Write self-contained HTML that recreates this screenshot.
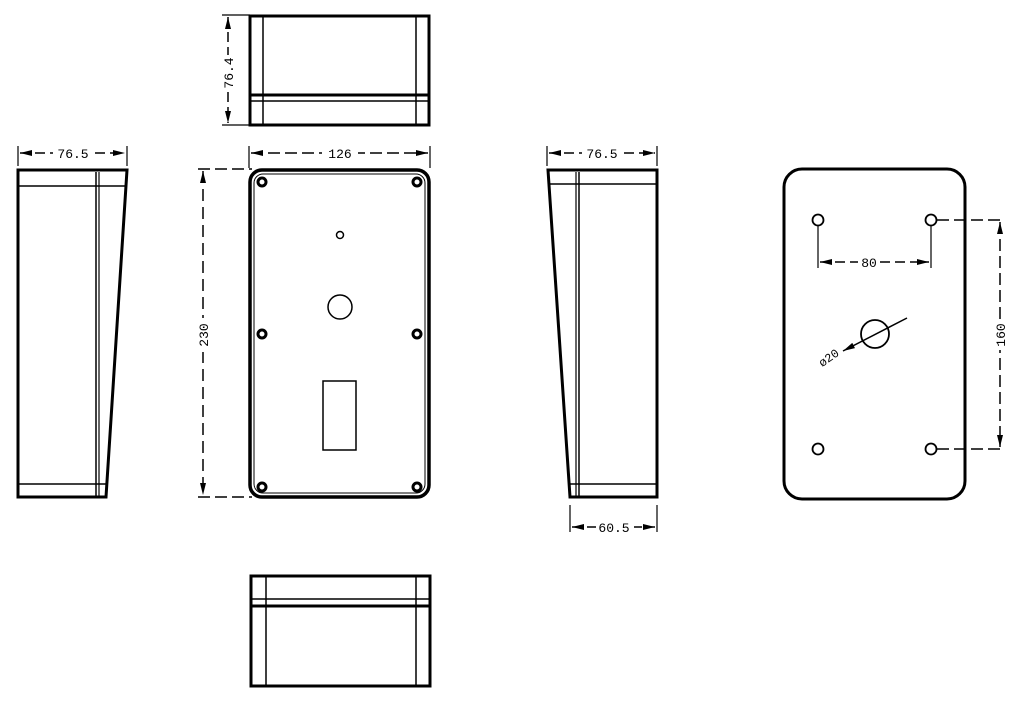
<!DOCTYPE html>
<html><head><meta charset="utf-8"><style>html,body{margin:0;padding:0;background:#fff;}svg{display:block}</style></head>
<body>
<svg width="1019" height="702" viewBox="0 0 1019 702" xmlns="http://www.w3.org/2000/svg" font-family="Liberation Mono, DejaVu Sans Mono, monospace" font-size="13">
<defs>
<marker id="a" markerWidth="8" markerHeight="4" refX="8" refY="2" orient="auto-start-reverse"><path d="M0,0 L8,2 L0,4z" fill="#000"/></marker>
</defs>
<g fill="none" stroke="#000">
<!-- Top view -->
<rect x="250" y="16" width="179" height="109" stroke-width="3"/>
<line x1="263" y1="16" x2="263" y2="125" stroke-width="1.5"/>
<line x1="416" y1="16" x2="416" y2="125" stroke-width="1.5"/>
<line x1="250" y1="95" x2="429" y2="95" stroke-width="3"/>
<line x1="250" y1="101" x2="429" y2="101" stroke-width="1.5"/>
<line x1="222" y1="15" x2="250" y2="15" stroke-width="1.2"/>
<line x1="222" y1="125" x2="250" y2="125" stroke-width="1.2"/>
<line x1="228" y1="17" x2="228" y2="123" stroke-width="1.5" stroke-dasharray="10,5" marker-start="url(#a)" marker-end="url(#a)"/>

<!-- Front view -->
<rect x="250" y="170" width="179" height="327" rx="12" stroke-width="3.5"/>
<rect x="254" y="174" width="171" height="319" rx="9" stroke-width="1"/>
<g stroke-width="3">
<circle cx="262" cy="182" r="4"/><circle cx="417" cy="182" r="4"/>
<circle cx="262" cy="334" r="4"/><circle cx="417" cy="334" r="4"/>
<circle cx="262" cy="487" r="4"/><circle cx="417" cy="487" r="4"/>
</g>
<circle cx="340" cy="235" r="3.5" stroke-width="1.5"/>
<circle cx="340" cy="307" r="12" stroke-width="1.5"/>
<rect x="323" y="381" width="33" height="69" stroke-width="1.5"/>
<line x1="249" y1="146" x2="249" y2="168" stroke-width="1.2"/>
<line x1="430" y1="146" x2="430" y2="168" stroke-width="1.2"/>
<line x1="251" y1="153" x2="428" y2="153" stroke-width="1.5" stroke-dasharray="12,5" marker-start="url(#a)" marker-end="url(#a)"/>
<line x1="198" y1="169" x2="252" y2="169" stroke-width="1.5" stroke-dasharray="12,5"/>
<line x1="198" y1="497" x2="252" y2="497" stroke-width="1.5" stroke-dasharray="12,5"/>
<line x1="203" y1="171" x2="203" y2="495" stroke-width="1.5" stroke-dasharray="12,6" marker-start="url(#a)" marker-end="url(#a)"/>

<!-- Left side view -->
<path d="M18,170 L127,170 L106,497 L18,497 Z" stroke-width="3"/>
<line x1="18" y1="186" x2="127" y2="186" stroke-width="1.5"/>
<line x1="18" y1="484" x2="106" y2="484" stroke-width="1.5"/>
<line x1="96" y1="172" x2="96" y2="497" stroke-width="1.5"/>
<line x1="99" y1="172" x2="99" y2="497" stroke-width="1.2"/>
<line x1="18" y1="146" x2="18" y2="166" stroke-width="1.2"/>
<line x1="127" y1="146" x2="127" y2="166" stroke-width="1.2"/>
<line x1="20" y1="153" x2="125" y2="153" stroke-width="1.5" stroke-dasharray="10,5" marker-start="url(#a)" marker-end="url(#a)"/>

<!-- Right side view -->
<path d="M548,170 L657,170 L657,497 L570,497 Z" stroke-width="3"/>
<line x1="548" y1="184" x2="657" y2="184" stroke-width="1.5"/>
<line x1="570" y1="484" x2="657" y2="484" stroke-width="1.5"/>
<line x1="576" y1="172" x2="576" y2="497" stroke-width="1.2"/>
<line x1="579" y1="172" x2="579" y2="497" stroke-width="1.5"/>
<line x1="547" y1="146" x2="547" y2="166" stroke-width="1.2"/>
<line x1="657" y1="146" x2="657" y2="166" stroke-width="1.2"/>
<line x1="549" y1="153" x2="655" y2="153" stroke-width="1.5" stroke-dasharray="10,5" marker-start="url(#a)" marker-end="url(#a)"/>
<line x1="570" y1="505" x2="570" y2="532" stroke-width="1.2"/>
<line x1="657" y1="505" x2="657" y2="532" stroke-width="1.2"/>
<line x1="572" y1="527" x2="655" y2="527" stroke-width="1.5" stroke-dasharray="10,5" marker-start="url(#a)" marker-end="url(#a)"/>

<!-- Back view -->
<rect x="784" y="169" width="181" height="330" rx="18" stroke-width="3"/>
<g stroke-width="1.8">
<circle cx="818" cy="220" r="5.5"/><circle cx="931" cy="220" r="5.5"/>
<circle cx="818" cy="449" r="5.5"/><circle cx="931" cy="449" r="5.5"/>
</g>
<circle cx="875" cy="334" r="14" stroke-width="1.8"/>
<line x1="843" y1="351" x2="907" y2="318" stroke-width="1.5" marker-start="url(#a)"/>
<line x1="818" y1="226" x2="818" y2="268" stroke-width="1.2"/>
<line x1="931" y1="226" x2="931" y2="268" stroke-width="1.2"/>
<line x1="820" y1="262" x2="929" y2="262" stroke-width="1.5" stroke-dasharray="10,5" marker-start="url(#a)" marker-end="url(#a)"/>
<line x1="937" y1="220" x2="1004" y2="220" stroke-width="1.5" stroke-dasharray="12,5"/>
<line x1="937" y1="449" x2="1004" y2="449" stroke-width="1.5" stroke-dasharray="12,5"/>
<line x1="1000" y1="222" x2="1000" y2="447" stroke-width="1.5" stroke-dasharray="12,5" marker-start="url(#a)" marker-end="url(#a)"/>

<!-- Bottom view -->
<rect x="251" y="576" width="179" height="110" stroke-width="3"/>
<line x1="266" y1="576" x2="266" y2="686" stroke-width="1.5"/>
<line x1="416" y1="576" x2="416" y2="686" stroke-width="1.5"/>
<line x1="251" y1="599" x2="430" y2="599" stroke-width="1.5"/>
<line x1="251" y1="606" x2="430" y2="606" stroke-width="3"/>
</g>

<g fill="#000">
<rect x="219" y="55" width="18" height="36" fill="#fff"/>
<text transform="translate(233,73) rotate(-90)" text-anchor="middle">76.4</text>
<rect x="322" y="146" width="36" height="14" fill="#fff"/>
<text x="340" y="158" text-anchor="middle">126</text>
<rect x="195" y="318" width="16" height="34" fill="#fff"/>
<text transform="translate(208,335) rotate(-90)" text-anchor="middle">230</text>
<rect x="53" y="146" width="40" height="14" fill="#fff"/>
<text x="73" y="158" text-anchor="middle">76.5</text>
<rect x="582" y="146" width="40" height="14" fill="#fff"/>
<text x="602" y="158" text-anchor="middle">76.5</text>
<rect x="596" y="520" width="38" height="14" fill="#fff"/>
<text x="614" y="532" text-anchor="middle">60.5</text>
<rect x="858" y="255" width="22" height="14" fill="#fff"/>
<text x="869" y="267" text-anchor="middle">80</text>
<rect x="993" y="320" width="16" height="30" fill="#fff"/>
<text transform="translate(1005,335) rotate(-90)" text-anchor="middle">160</text>
<text transform="translate(831,361) rotate(-35)" text-anchor="middle" font-size="12">ø20</text>
</g>
</svg>
</body></html>
